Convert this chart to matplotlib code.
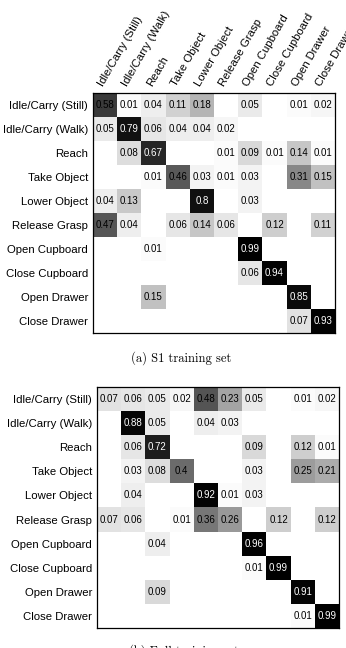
import numpy as np
import matplotlib
matplotlib.use('Agg')
import matplotlib.pyplot as plt
from matplotlib.colors import ListedColormap

# nombres de las clases (filas = real, columnas = predicha)
clases = ['Idle/Carry (Still)', 'Idle/Carry (Walk)', 'Reach', 'Take Object', 'Lower Object',
          'Release Grasp', 'Open Cupboard', 'Close Cupboard', 'Open Drawer', 'Close Drawer']

# matriz de confusion (a) S1 training set, 0 = celda vacia
s1_idle_still = [0.58, 0.01, 0.04, 0.11, 0.18, 0, 0.05, 0, 0.01, 0.02]
s1_idle_walk = [0.05, 0.79, 0.06, 0.04, 0.04, 0.02, 0, 0, 0, 0]
s1_reach = [0, 0.08, 0.67, 0, 0, 0.01, 0.09, 0.01, 0.14, 0.01]
s1_take = [0, 0, 0.01, 0.46, 0.03, 0.01, 0.03, 0, 0.31, 0.15]
s1_lower = [0.04, 0.13, 0, 0, 0.8, 0, 0.03, 0, 0, 0]
s1_release = [0.47, 0.04, 0, 0.06, 0.14, 0.06, 0, 0.12, 0, 0.11]
s1_open_cup = [0, 0, 0.01, 0, 0, 0, 0.99, 0, 0, 0]
s1_close_cup = [0, 0, 0, 0, 0, 0, 0.06, 0.94, 0, 0]
s1_open_drw = [0, 0, 0.15, 0, 0, 0, 0, 0, 0.85, 0]
s1_close_drw = [0, 0, 0, 0, 0, 0, 0, 0, 0.07, 0.93]

# matriz de confusion (b) Full training set
full_idle_still = [0.07, 0.06, 0.05, 0.02, 0.48, 0.23, 0.05, 0, 0.01, 0.02]
full_idle_walk = [0, 0.88, 0.05, 0, 0.04, 0.03, 0, 0, 0, 0]
full_reach = [0, 0.06, 0.72, 0, 0, 0, 0.09, 0, 0.12, 0.01]
full_take = [0, 0.03, 0.08, 0.4, 0, 0, 0.03, 0, 0.25, 0.21]
full_lower = [0, 0.04, 0, 0, 0.92, 0.01, 0.03, 0, 0, 0]
full_release = [0.07, 0.06, 0, 0.01, 0.36, 0.26, 0, 0.12, 0, 0.12]
full_open_cup = [0, 0, 0.04, 0, 0, 0, 0.96, 0, 0, 0]
full_close_cup = [0, 0, 0, 0, 0, 0, 0.01, 0.99, 0, 0]
full_open_drw = [0, 0, 0.09, 0, 0, 0, 0, 0, 0.91, 0]
full_close_drw = [0, 0, 0, 0, 0, 0, 0, 0, 0.01, 0.99]

plt.rcParams['font.family'] = ['Liberation Sans', 'DejaVu Sans']

# escala de grises no lineal (blanco = 0, negro = 1)
t = np.linspace(0, 1, 256)
g = (1 - t) ** 1.7
gris = ListedColormap(np.stack([g, g, g], axis=1))


def dibujar(ax, filas, con_columnas):
    mat = np.array(filas)
    ax.imshow(mat, cmap=gris, vmin=0, vmax=1, aspect='auto', interpolation='nearest')
    for i in range(mat.shape[0]):
        for j in range(mat.shape[1]):
            v = mat[i, j]
            if v > 0:
                color = 'white' if v >= 0.6 else 'black'
                ax.text(j, i, '%g' % v, ha='center', va='center', fontsize=7, color=color)
    ax.set_yticks(range(len(clases)))
    ax.set_yticklabels(clases, fontsize=8.2)
    ax.tick_params(length=0, pad=3.5)
    if con_columnas:
        ax.xaxis.tick_top()
        ax.set_xticks(range(len(clases)))
        ax.set_xticklabels(clases, fontsize=8.2, rotation=60, ha='left', va='bottom',
                           rotation_mode='anchor')
        ax.tick_params(axis='x', length=0, pad=3.5)
    else:
        ax.set_xticks([])
    for s in ax.spines.values():
        s.set_linewidth(0.9)


fig = plt.figure(figsize=(3.46, 6.48), dpi=100)

ax1 = fig.add_axes([93 / 346, 1 - 333 / 648, 242 / 346, 240 / 648])
dibujar(ax1, [s1_idle_still, s1_idle_walk, s1_reach, s1_take, s1_lower, s1_release,
              s1_open_cup, s1_close_cup, s1_open_drw, s1_close_drw], True)

ax2 = fig.add_axes([97 / 346, 1 - 628 / 648, 242 / 346, 241 / 648])
dibujar(ax2, [full_idle_still, full_idle_walk, full_reach, full_take, full_lower, full_release,
              full_open_cup, full_close_cup, full_open_drw, full_close_drw], False)

# pies de figura (el segundo queda cortado abajo, como en el original)
fig.text(181 / 346, 1 - 358 / 648, '(a) S1 training set', family='cmr10', fontsize=9,
         ha='center', va='center')
fig.text(184 / 346, 1 - 651 / 648, '(b) Full training set', family='cmr10', fontsize=9,
         ha='center', va='center')

fig.savefig('out.png', dpi=100)
